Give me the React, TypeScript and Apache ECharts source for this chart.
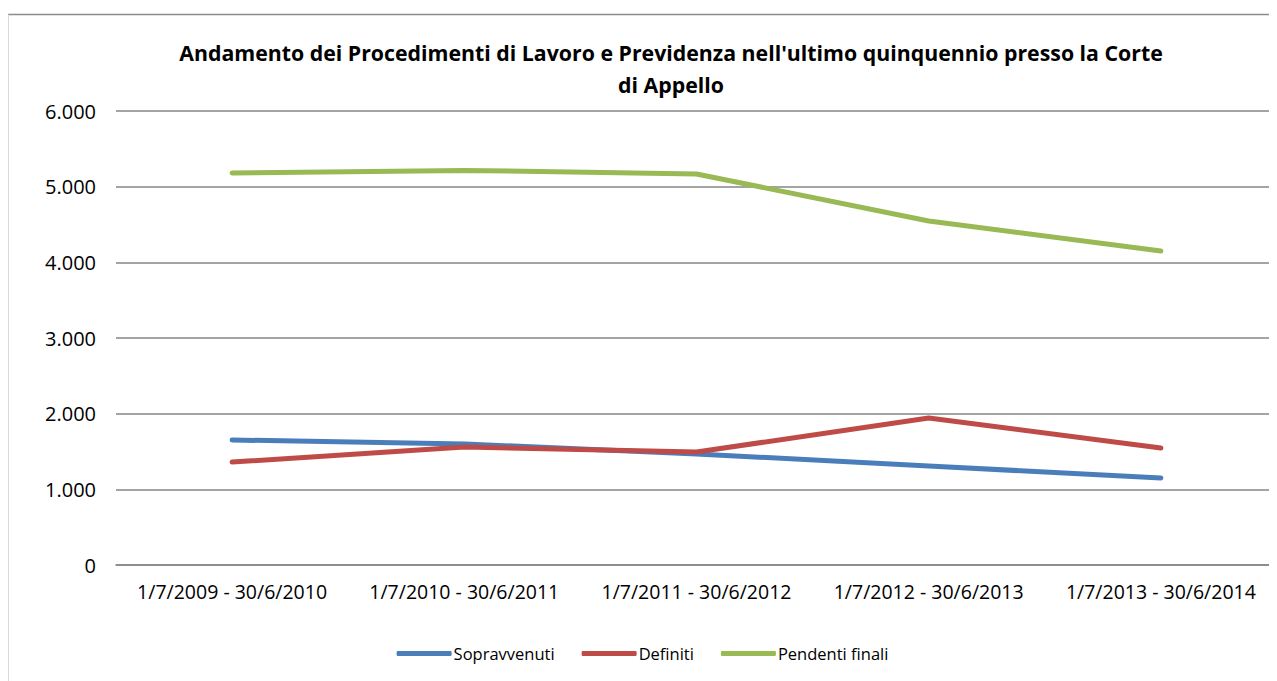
import React, { useEffect, useRef } from "react";
import * as echarts from "echarts";

const categories = [
  "1/7/2009 - 30/6/2010",
  "1/7/2010 - 30/6/2011",
  "1/7/2011 - 30/6/2012",
  "1/7/2012 - 30/6/2013",
  "1/7/2013 - 30/6/2014",
];
const sopravvenuti = [1652, 1600, 1468, 1308, 1150];
const definiti = [1360, 1558, 1493, 1943, 1546];
const pendentiFinali = [5180, 5215, 5168, 4546, 4150];
const yTicks = [0, 1000, 2000, 3000, 4000, 5000, 6000];

const FONT = "'Open Sans', sans-serif";

function fmt(v: number): string {
  return v === 0 ? "0" : v.toLocaleString("de-DE");
}

export default function App() {
  const ref = useRef<HTMLDivElement>(null);
  useEffect(() => {
    if (!ref.current) return;
    const chart = echarts.init(ref.current, null, { renderer: "svg" });
    const mkSeries = (name: string, data: number[], color: string) => ({
      name,
      type: "line",
      data,
      symbol: "none",
      smooth: false,
      lineStyle: { width: 5, color, cap: "round", join: "round" },
      itemStyle: { color },
    });
    chart.setOption({
      animation: false,
      backgroundColor: "#ffffff",
      textStyle: { fontFamily: FONT },
      title: [
        {
          text: "Andamento dei Procedimenti di Lavoro e Previdenza nell'ultimo quinquennio presso la Corte\ndi Appello",
          left: 658,
          top: 23,
          textAlign: "center",
          textStyle: {
            fontFamily: FONT,
            fontSize: 21.3,
            fontWeight: "bold",
            color: "#000",
            lineHeight: 32,
          },
        },
      ],
      graphic: [
        {
          type: "line",
          shape: { x1: 0, y1: 6.5, x2: 1269, y2: 6.5 },
          style: { stroke: "#8c8c8c", lineWidth: 1.5 },
        },
        {
          type: "line",
          shape: { x1: 0.5, y1: 6.5, x2: 0.5, y2: 673 },
          style: { stroke: "#d9d9d9", lineWidth: 1 },
        },
      ],
      legend: {
        bottom: 14,
        left: "center",
        itemWidth: 55,
        itemHeight: 5,
        itemGap: 27,
        icon: "roundRect",
        textStyle: { fontFamily: FONT, fontSize: 16.5, color: "#000", padding: [0, 0, 0, -3] },
        data: ["Sopravvenuti", "Definiti", "Pendenti finali"],
      },
      grid: { left: 108, right: -8, top: 103, bottom: 116, containLabel: false },
      xAxis: {
        type: "category",
        data: categories,
        boundaryGap: true,
        axisLine: { show: true, lineStyle: { color: "#868686", width: 1.5 } },
        axisTick: { show: false },
        axisLabel: { fontFamily: FONT, fontSize: 19.5, color: "#000", margin: 16, interval: 0 },
      },
      yAxis: {
        type: "value",
        min: yTicks[0],
        max: yTicks[yTicks.length - 1],
        interval: 1000,
        axisLine: { show: false },
        axisTick: { show: false },
        splitLine: { show: true, lineStyle: { color: "#868686", width: 1.5 } },
        axisLabel: {
          fontFamily: FONT,
          fontSize: 20,
          color: "#000",
          margin: 20,
          formatter: (v: number) => fmt(v),
        },
      },
      series: [
        mkSeries("Sopravvenuti", sopravvenuti, "#4a7ebb"),
        mkSeries("Definiti", definiti, "#be4b48"),
        mkSeries("Pendenti finali", pendentiFinali, "#98b954"),
      ],
    });
    return () => chart.dispose();
  }, []);
  return <div ref={ref} style={{ width: 1269, height: 673 }} />;
}
